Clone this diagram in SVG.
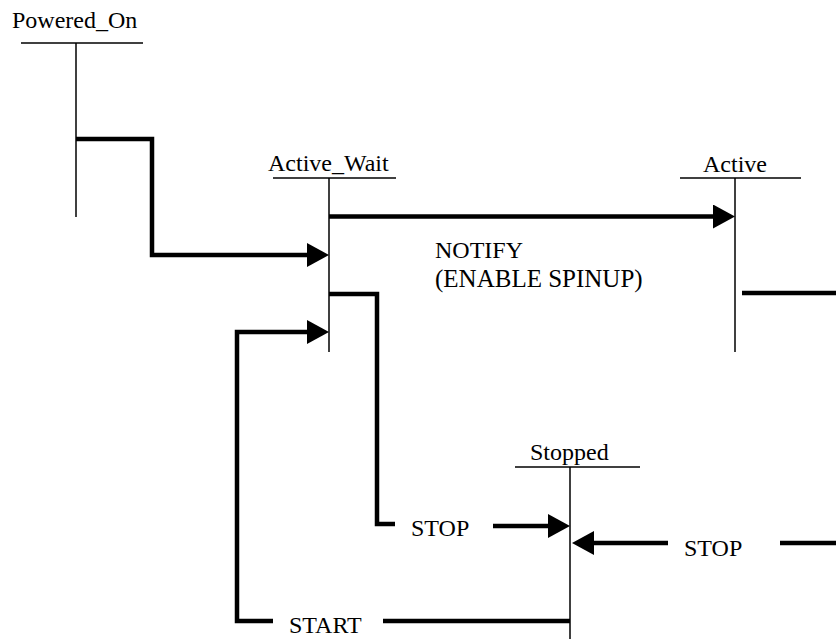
<svg xmlns="http://www.w3.org/2000/svg" width="836" height="639" viewBox="0 0 836 639">
<style>
text{font-family:'Liberation Serif','Times New Roman',serif;font-size:24px;fill:#000}
.big{font-size:25px}
.thin{stroke:#000;stroke-width:1.5;fill:none}
.thick{stroke:#000;stroke-width:4.5;fill:none}
.arr{marker-end:url(#ah)}
</style>
<defs>
<marker id="ah" markerUnits="userSpaceOnUse" markerWidth="23" markerHeight="24" refX="0" refY="12" orient="auto" viewBox="0 0 23 24">
<path d="M0,0 L22,12 L0,24 z" fill="#000"/>
</marker>
</defs>
<rect width="836" height="639" fill="#fff"/>
<g id="Powered_On">
<text x="12" y="28">Powered_On</text>
<line class="thin" x1="21" y1="43" x2="143" y2="43"/>
<line class="thin" x1="76" y1="43" x2="76" y2="217"/>
</g>
<g id="Active_Wait">
<text x="268" y="171">Active_Wait</text>
<line class="thin" x1="273" y1="178" x2="396" y2="178"/>
<line class="thin" x1="329" y1="178" x2="329" y2="352"/>
</g>
<g id="Active">
<text x="703" y="172">Active</text>
<line class="thin" x1="680" y1="178" x2="801" y2="178"/>
<line class="thin" x1="735" y1="178" x2="735" y2="352"/>
</g>
<g id="Stopped">
<text x="530" y="460">Stopped</text>
<line class="thin" x1="515" y1="467" x2="640" y2="467"/>
<line class="thin" x1="570" y1="467" x2="570" y2="639"/>
</g>
<g id="connectors">
<path class="thick arr" d="M76,139 H152 V255 H307"/>
<path class="thick arr" d="M329,216.5 H713"/>
<text x="435" y="258">NOTIFY</text>
<text class="big" x="435" y="287">(ENABLE SPINUP)</text>
<line class="thick" x1="742" y1="293" x2="836" y2="293"/>
<path class="thick" d="M329,294 H377 V524 H395"/>
<text x="411" y="536">STOP</text>
<path class="thick arr" d="M493,526 H548"/>
<line class="thick" x1="780" y1="543" x2="836" y2="543"/>
<text x="684" y="556">STOP</text>
<path class="thick arr" d="M668,543 H594"/>
<path class="thick" d="M570,621 H383"/>
<text x="289" y="633">START</text>
<path class="thick arr" d="M273,621 H237 V332 H307"/>
</g>
</svg>
